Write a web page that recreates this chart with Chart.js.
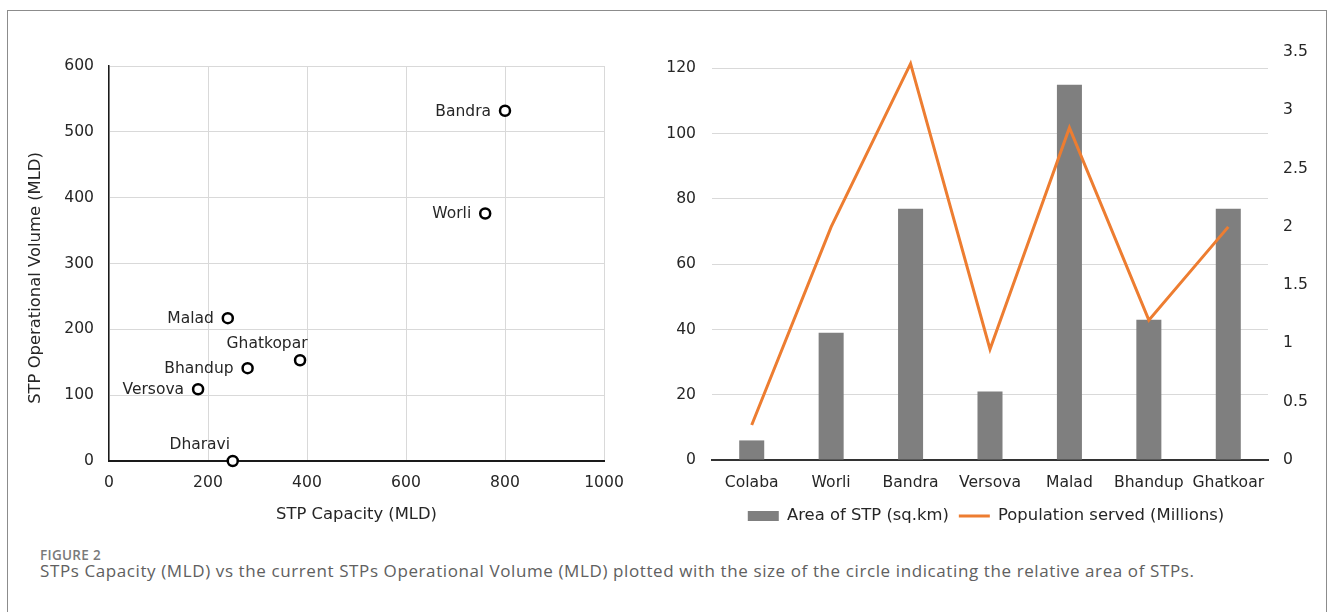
<!DOCTYPE html>
<html>
<head>
<meta charset="utf-8">
<title>STP capacity, operational volume, area and population served</title>
<script src="https://cdn.jsdelivr.net/npm/chart.js@4.4.1/dist/chart.umd.min.js"></script>
<style>
  html, body { margin: 0; padding: 0; background: #fff; }
  body { width: 1332px; height: 612px; position: relative; overflow: hidden; }
  .frame { position: absolute; left: 7px; top: 10px; width: 1320px; height: 640px; border: 1px solid #8c8c8c; box-sizing: border-box; }
  #scatterChart { position: absolute; left: 0; top: 0; }
  #comboChart { position: absolute; left: 640px; top: 0; }
  .fig-label { position: absolute; left: 40px; top: 547px; font: 600 13.5px/16px "Open Sans", sans-serif; color: #7a7a7a; letter-spacing: 0.3px; }
  .caption { position: absolute; left: 40px; top: 561px; font: 17px/20px "Open Sans", sans-serif; color: #606060; white-space: nowrap; letter-spacing: 0.6px; }
</style>
</head>
<body>
<div class="frame"></div>
<canvas id="scatterChart" width="640" height="540"></canvas>
<canvas id="comboChart" width="692" height="540"></canvas>
<div class="fig-label">FIGURE 2</div>
<div class="caption">STPs Capacity (MLD) vs the current STPs Operational Volume (MLD) plotted with the size of the circle indicating the relative area of STPs.</div>

<script>
// ---- Scatter: capacity vs operational volume ----
const sites = ['Bandra', 'Worli', 'Malad', 'Ghatkopar', 'Bhandup', 'Versova', 'Dharavi'];
const capacityMLD = [800, 760, 240, 386, 280, 180, 250];
const operationalMLD = [532, 376, 217, 153, 141, 109, 0];
const labelSide = ['left', 'left', 'left', 'above', 'left', 'left', 'above'];

const capacityTicks = [0, 200, 400, 600, 800, 1000];
const volumeTicks = [0, 100, 200, 300, 400, 500, 600];

// ---- Combo: area of STP (bars) and population served (line) ----
const zones = ['Colaba', 'Worli', 'Bandra', 'Versova', 'Malad', 'Bhandup', 'Ghatkoar'];
const areaSqKm = [6, 39, 77, 21, 115, 43, 77];
const populationMillions = [0.3, 2.0, 3.4, 0.95, 2.85, 1.2, 2.0];

const areaTicks = [0, 20, 40, 60, 80, 100, 120];
const populationTicks = [0, 0.5, 1, 1.5, 2, 2.5, 3, 3.5];

const FONT = '"DejaVu Sans", Verdana, sans-serif';
const TEXT = '#262626';
const GRID = '#d9d9d9';
const tickFont = { family: FONT, size: 15.6 };
const titleFont = { family: FONT, size: 16.4 };

function keepTicks(list) {
  return scale => { scale.ticks = list.map(v => ({ value: v })); };
}

// Site names beside each scatter marker
const siteLabels = {
  id: 'siteLabels',
  afterDatasetsDraw(chart) {
    const ctx = chart.ctx;
    const meta = chart.getDatasetMeta(0);
    ctx.save();
    ctx.font = '15.5px ' + FONT;
    ctx.fillStyle = TEXT;
    ctx.textBaseline = 'middle';
    meta.data.forEach((pt, i) => {
      if (labelSide[i] === 'left') {
        ctx.textAlign = 'right';
        ctx.fillText(sites[i], pt.x - 14, pt.y + 1);
      } else {
        ctx.textAlign = 'center';
        ctx.fillText(sites[i], pt.x - 33, pt.y - 16);
      }
    });
    ctx.restore();
  }
};

// Vertical y-axis title of the scatter chart
const yTitle = {
  id: 'yTitle',
  afterDraw(chart) {
    const ctx = chart.ctx;
    ctx.save();
    ctx.translate(36, 278);
    ctx.rotate(-Math.PI / 2);
    ctx.font = titleFont.size + 'px ' + FONT;
    ctx.fillStyle = TEXT;
    ctx.textAlign = 'center';
    ctx.textBaseline = 'middle';
    ctx.fillText('STP Operational Volume (MLD)', 0, 0);
    ctx.restore();
  }
};

new Chart(document.getElementById('scatterChart'), {
  type: 'scatter',
  data: {
    datasets: [{
      label: 'STPs',
      data: capacityMLD.map((c, i) => ({ x: c, y: operationalMLD[i] })),
      pointStyle: 'circle',
      pointRadius: 5,
      pointHoverRadius: 5,
      pointBorderWidth: 2.5,
      pointBorderColor: '#000',
      pointBackgroundColor: '#fff',
      clip: false
    }]
  },
  options: {
    responsive: false,
    animation: false,
    events: [],
    layout: { padding: { top: 66, right: 36, bottom: 0, left: 0 } },
    plugins: { legend: { display: false }, tooltip: { enabled: false } },
    scales: {
      x: {
        type: 'linear', min: 0, max: 1000,
        afterBuildTicks: keepTicks(capacityTicks),
        afterFit(s) { s.height = 79; },
        ticks: { font: tickFont, color: TEXT, padding: 13, callback: v => String(v) },
        grid: { color: GRID, lineWidth: 1, drawTicks: false },
        border: { color: '#1a1a1a', width: 2 },
        title: { display: true, text: 'STP Capacity (MLD)', font: titleFont, color: TEXT, padding: { top: 0, bottom: 15 } }
      },
      y: {
        type: 'linear', min: 0, max: 600,
        afterBuildTicks: keepTicks(volumeTicks),
        afterFit(s) { s.width = 109; },
        ticks: { font: tickFont, color: TEXT, padding: 15, callback: v => String(v) },
        grid: { color: GRID, lineWidth: 1, drawTicks: false },
        border: { color: '#1a1a1a', width: 1.5 }
      }
    }
  },
  plugins: [siteLabels, yTitle]
});

new Chart(document.getElementById('comboChart'), {
  type: 'bar',
  data: {
    labels: zones,
    datasets: [
      {
        type: 'bar',
        label: 'Area of STP (sq.km)',
        data: areaSqKm,
        yAxisID: 'y',
        backgroundColor: '#7f7f7f',
        borderWidth: 0,
        barPercentage: 0.315,
        categoryPercentage: 1,
        order: 1
      },
      {
        type: 'line',
        label: 'Population served (Millions)',
        data: populationMillions,
        yAxisID: 'y1',
        borderColor: '#ed7d31',
        backgroundColor: '#ed7d31',
        borderWidth: 3,
        pointRadius: 0,
        tension: 0,
        pointStyle: 'line',
        order: 0
      }
    ]
  },
  options: {
    responsive: false,
    animation: false,
    events: [],
    layout: { padding: { top: 52, right: 0, bottom: 5.8, left: 0 } },
    plugins: {
      tooltip: { enabled: false },
      legend: {
        position: 'bottom',
        labels: {
          font: titleFont,
          color: TEXT,
          padding: 10,
          boxHeight: 10,
          usePointStyle: true,
          pointStyleWidth: 31,
          sort: (a, b) => a.datasetIndex - b.datasetIndex,
          generateLabels(chart) {
            return chart.data.datasets.map((ds, i) => ({
              text: ds.label,
              datasetIndex: i,
              fillStyle: ds.type === 'bar' ? ds.backgroundColor : 'rgba(0,0,0,0)',
              strokeStyle: ds.type === 'bar' ? ds.backgroundColor : ds.borderColor,
              lineWidth: ds.type === 'bar' ? 0 : 3,
              pointStyle: ds.type === 'bar' ? 'rect' : 'line',
              fontColor: TEXT,
              hidden: false
            }));
          }
        }
      }
    },
    scales: {
      x: {
        afterFit(s) { s.height = 37.8; },
        ticks: { font: tickFont, color: TEXT, padding: 14, maxRotation: 0, autoSkip: false },
        grid: { display: false, drawTicks: false },
        border: { color: '#333', width: 2 }
      },
      y: {
        position: 'left', min: 0, max: 125,
        afterBuildTicks: keepTicks(areaTicks),
        afterFit(s) { s.width = 72; },
        ticks: { font: tickFont, color: TEXT, padding: 16, callback: v => String(v) },
        grid: { color: GRID, lineWidth: 1, drawTicks: false },
        border: { display: false }
      },
      y1: {
        position: 'right', min: 0, max: 3.5,
        afterBuildTicks: keepTicks(populationTicks),
        afterFit(s) { s.width = 64; },
        ticks: { font: tickFont, color: TEXT, padding: 15, callback: v => String(v) },
        grid: { display: false, drawTicks: false },
        border: { display: false }
      }
    }
  }
});
</script>
</body>
</html>
